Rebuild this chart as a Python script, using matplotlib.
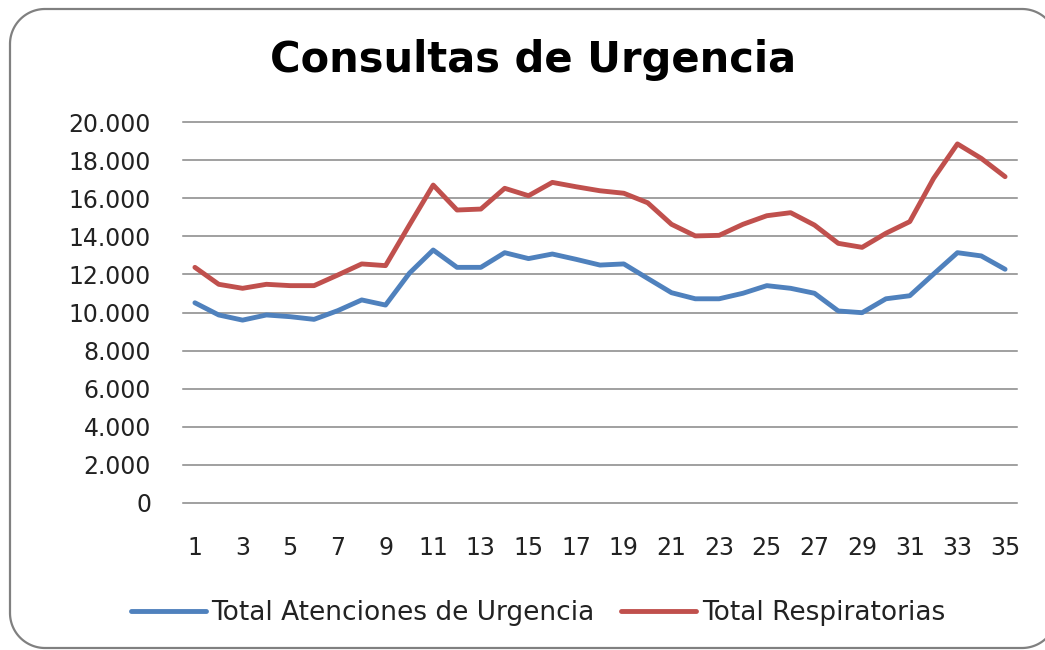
import numpy as np
import matplotlib
matplotlib.use("Agg")
import matplotlib.pyplot as plt
from matplotlib.patches import Polygon
from matplotlib.ticker import FuncFormatter

# semanas 1..35
weeks = list(range(1, 36))

total_atenciones = [
    10510, 9870, 9600, 9870, 9780, 9640, 10100, 10660, 10390, 12060,
    13280, 12370, 12370, 13140, 12830, 13070, 12790, 12490, 12550, 11790,
    11040, 10720, 10720, 11010, 11410, 11270, 11010, 10080, 9990, 10720,
    10880, 12020, 13140, 12970, 12270,
]
total_respiratorias = [
    12370, 11480, 11270, 11480, 11410, 11410, 11970, 12550, 12460, 14590,
    16690, 15380, 15430, 16520, 16130, 16830, 16600, 16390, 16260, 15760,
    14630, 14020, 14050, 14630, 15080, 15240, 14590, 13630, 13420, 14160,
    14770, 17040, 18850, 18090, 17130,
]

series_names = ["Total Atenciones de Urgencia", "Total Respiratorias"]
title = "Consultas de Urgencia"

blue = "#4F81BD"
red = "#C0504D"
grid_color = "#868686"


def rounded_rect(x0, y0, x1, y1, r, n=40):
    # outline of the chart area frame, in inches
    pts = []
    corners = [(x1 - r, y1 - r, 0), (x0 + r, y1 - r, 90),
               (x0 + r, y0 + r, 180), (x1 - r, y0 + r, 270)]
    for cx, cy, a0 in corners:
        t = np.radians(np.linspace(a0, a0 + 90, n))
        pts.extend(zip(cx + r * np.cos(t), cy + r * np.sin(t)))
    return np.array(pts)


fig = plt.figure(figsize=(10.45, 6.5), dpi=100)
ax = fig.add_axes([183 / 1045, 1 - 503 / 650, 834 / 1045, 381 / 650])

ax.plot(weeks, total_atenciones, color=blue, lw=3.5, label=series_names[0],
        solid_joinstyle="round", solid_capstyle="round")
ax.plot(weeks, total_respiratorias, color=red, lw=3.5, label=series_names[1],
        solid_joinstyle="round", solid_capstyle="round")

ax.set_xlim(0.5, 35.5)
ax.set_ylim(0, 20000)
ax.set_yticks(np.arange(0, 20001, 2000))
ax.set_xticks(weeks[::2])
ax.yaxis.set_major_formatter(FuncFormatter(lambda v, p: f"{v:,.0f}".replace(",", ".")))

for y in np.arange(0, 20001, 2000):
    ax.axhline(y, color=grid_color, lw=1.1, zorder=0, clip_on=False)

for s in ax.spines.values():
    s.set_visible(False)

ax.tick_params(axis="y", length=0, pad=23, labelsize=17, labelcolor="#222222")
ax.tick_params(axis="x", length=0, pad=24, labelsize=17, labelcolor="#222222")

fig.text(533 / 1045, 1 - 60 / 650, title, ha="center", va="center",
         fontsize=30, fontweight="bold", color="black")

fig.legend(loc="center", bbox_to_anchor=(538 / 1045, 1 - 613 / 650), ncol=2,
           frameon=False, fontsize=19, handlelength=2.85, handletextpad=0.2,
           columnspacing=1.0, labelcolor="#222222")

frame = Polygon(rounded_rect(0.10, 0.02, 10.57, 6.41, 0.35), closed=True,
                transform=fig.dpi_scale_trans, fill=False,
                edgecolor="#808080", lw=1.6)
fig.patches.append(frame)

fig.savefig("out.png", dpi=100)
